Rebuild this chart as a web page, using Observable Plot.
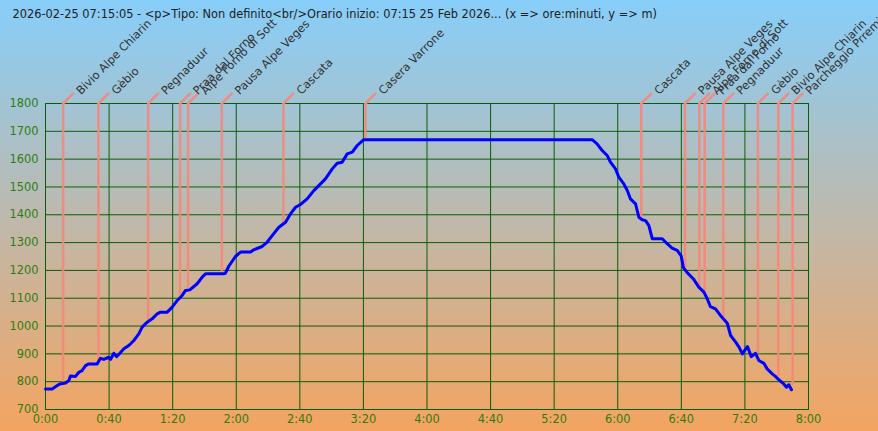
<!DOCTYPE html>
<html>
<head>
<meta charset="utf-8">
<script src="https://cdn.jsdelivr.net/npm/d3@7"></script>
<script src="https://cdn.jsdelivr.net/npm/@observablehq/plot@0.6"></script>
<style>
  html, body { margin: 0; padding: 0; }
  #wrap { width: 878px; height: 431px; background: linear-gradient(to bottom, #87cefa, #f4a460); overflow: hidden; }
  svg { display: block; }
</style>
</head>
<body>
<div id="wrap"></div>
<script>
const titleText = "2026-02-25 07:15:05 - <p>Tipo: Non definito<br/>Orario inizio: 07:15 25 Feb 2026... (x => ore:minuti, y => m)";

// profile: minutes from start, elevation (m)
const minutes = [0, 4.2, 7.4, 9, 12.6, 14.7, 15.7, 18.9, 21, 23, 25.2, 27.2, 32.5, 34.6, 36.7, 39.8, 40.9, 43, 44.7, 46.1,
  49.3, 52.4, 55.6, 58.7, 60.8, 64, 67.1, 70.3, 72.3, 76.6, 79.7, 82.9, 86, 88.1, 90.8, 95.4, 98.6, 100.7, 112, 113.2,
  115.3, 119.5, 122.7, 129, 131, 136.3, 139.5, 142.6, 146.8, 151, 154.1, 157.3, 160.4, 164.6, 168.8, 173, 176.1, 180.4,
  183.5, 186.6, 189.8, 193, 196.1, 200.2, 343.9, 347, 350.2, 353.4, 355.4, 358.6, 360.7, 363.8, 366, 368, 371.2, 373.3,
  375.4, 377.5, 379.6, 381.7, 388, 391.1, 394.2, 397.4, 399.9, 401.3, 403.7, 407.8, 411, 414.2, 416.3, 418.3, 421.5,
  424.6, 428.9, 431, 434.2, 436.3, 438.4, 440.5, 441.6, 444, 446.7, 448.8, 451.9, 454, 457.2, 459.2, 461.3, 464.4,
  466.2, 467.6, 469.3];
const elevation = [774, 774, 786, 792, 795, 804, 820, 819, 834, 840, 858, 864, 864, 884, 880, 888, 880, 902, 890, 898,
  918, 930, 948, 972, 996, 1014, 1026, 1044, 1050, 1050, 1068, 1092, 1110, 1128, 1130, 1152, 1176, 1188, 1188, 1190,
  1215, 1250, 1266, 1266, 1274, 1286, 1302, 1325, 1355, 1373, 1403, 1427, 1437, 1457, 1487, 1511, 1529, 1565,
  1585, 1589, 1619, 1625, 1649, 1670, 1670, 1655, 1631, 1613, 1589, 1565, 1535, 1511, 1487, 1457, 1439, 1391,
  1382, 1379, 1361, 1314, 1314, 1296, 1280, 1272, 1252, 1210, 1192, 1168, 1140, 1122, 1098, 1070, 1062,
  1038, 1010, 966, 942, 924, 900, 918, 926, 890, 902, 876, 866, 846, 828, 819, 807, 792,
  780, 789, 771];

// waypoints
const wpNames = ["Bivio Alpe Chiarin", "Gèbio", "Pegnaduur", "Praa dal Forno", "Alpe Forno di Sott", "Pausa Alpe Veges",
  "Cascata", "Casera Varrone", "Cascata", "Pausa Alpe Veges", "Alpe Forno di Sott", "Praa dal Forno", "Pegnaduur",
  "Gèbio", "Bivio Alpe Chiarin", "Parcheggio Prremia"];
const wpMinutes = [11.1, 33.3, 64.6, 84.7, 89.7, 110.9, 149.7, 201.3, 374.8, 402.3, 411.3, 414.7, 426.4, 448.2, 461, 470];
const wpElevation = [798, 876, 1020, 1104, 1134, 1190, 1368, 1670, 1390, 1200, 1134, 1116, 1026, 900, 819, 786];

const xTicks = [0, 40, 80, 120, 160, 200, 240, 280, 320, 360, 400, 440, 480];
const yTicks = [700, 800, 900, 1000, 1100, 1200, 1300, 1400, 1500, 1600, 1700, 1800];

const profile = minutes.map((m, i) => ({t: m, elev: elevation[i]}));
const waypoints = wpNames.map((n, i) => ({name: n, t: wpMinutes[i], elev: wpElevation[i]}));

const gridColor = "#0b5d0b";
const tickColor = "#2e7d12";
const wpColor = "#f5877a";
const fs = 11.4;
const fmtTime = d => `${Math.floor(d / 60)}:${String(d % 60).padStart(2, "0")}`;

const chart = Plot.plot({
  width: 878,
  height: 431,
  marginLeft: 45,
  marginRight: 70,
  marginTop: 103,
  marginBottom: 22,
  style: {background: "transparent", fontFamily: "DejaVu Sans, Verdana, sans-serif", fontSize: fs + "px"},
  x: {domain: [0, 480], label: null},
  y: {domain: [700, 1800], label: null},
  marks: [
    Plot.gridX(xTicks, {stroke: gridColor, strokeOpacity: 1, strokeWidth: 1}),
    Plot.gridY(yTicks, {stroke: gridColor, strokeOpacity: 1, strokeWidth: 1}),
    Plot.frame({stroke: gridColor, strokeWidth: 1}),
    Plot.axisX({ticks: xTicks, tickSize: 0, tickPadding: 5, tickFormat: fmtTime, fill: tickColor, fontSize: fs, label: null}),
    Plot.axisY({ticks: yTicks, tickSize: 0, tickPadding: 7, tickFormat: d => String(d), fill: tickColor, fontSize: fs, label: null}),
    Plot.ruleX(waypoints, {x: "t", y1: "elev", y2: 1800, stroke: wpColor, strokeWidth: 2.5, strokeOpacity: 0.9}),
    Plot.vector(waypoints, {
      x: "t", frameAnchor: "top", anchor: "start", length: 14, rotate: 45,
      stroke: wpColor, strokeWidth: 2.5, strokeOpacity: 0.9,
      shape: {draw(context, l) { context.moveTo(0, 0); context.lineTo(0, -l); }}
    }),
    Plot.text(waypoints, {
      x: "t", frameAnchor: "top", text: "name", rotate: -45, textAnchor: "start",
      dx: 12, dy: -14, fill: "#333", fontSize: fs
    }),
    Plot.line(profile, {x: "t", y: "elev", stroke: "#0000ff", strokeWidth: 3}),
    Plot.text([titleText], {frameAnchor: "top-left", text: d => d, textAnchor: "start", dx: -33, dy: -94, fill: "#222", fontSize: fs})
  ]
});
document.getElementById("wrap").appendChild(chart);
</script>
</body>
</html>
